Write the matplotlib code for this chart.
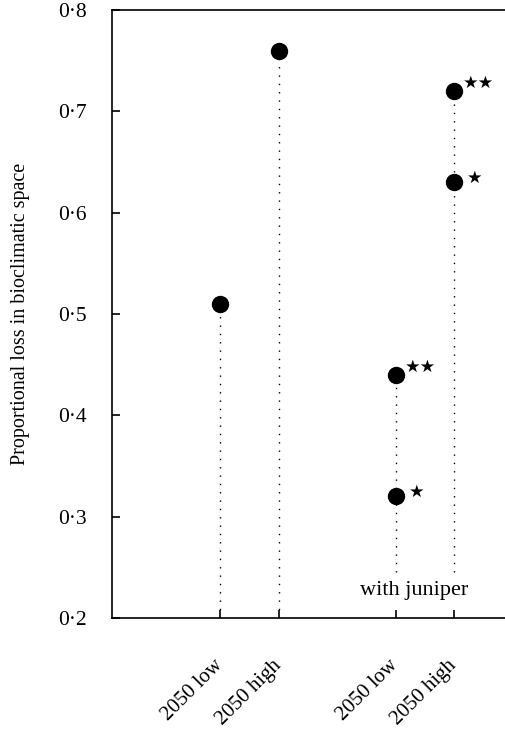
import numpy as np
import matplotlib
matplotlib.use("Agg")
import matplotlib.pyplot as plt

# data
x_plain = [1, 2]
loss_plain = [0.51, 0.76]
x_juniper = [4, 5]
loss_one_star = [0.32, 0.63]
loss_two_star = [0.44, 0.72]
tick_pos = [1, 2, 4, 5]
tick_labels = ["2050 low", "2050 high", "2050 low", "2050 high"]
yticks = [0.2, 0.3, 0.4, 0.5, 0.6, 0.7, 0.8]

SERIF = ["Liberation Serif", "DejaVu Serif"]
plt.rcParams["font.family"] = SERIF

fig = plt.figure(figsize=(5.06, 7.35), dpi=100)
ax = fig.add_axes([112 / 506, 1 - 618 / 735, 1 - 112 / 506, (618 - 10) / 735])

dots = dict(color="black", linewidth=1.0, linestyle=(0, (1, 5)), zorder=1)

# plain scenarios: dotted drop lines to the axis
for x, y in zip(x_plain, loss_plain):
    ax.plot([x, x], [0.2, y], **dots)
ax.plot(x_plain, loss_plain, "o", color="black", markersize=11.5, zorder=3)

# with juniper: lines stop above the label
for x, y in zip(x_juniper, loss_two_star):
    ax.plot([x, x], [0.245, y], **dots)
ax.plot(x_juniper, loss_one_star, "o", color="black", markersize=11.5, zorder=3)
ax.plot(x_juniper, loss_two_star, "o", color="black", markersize=11.5, zorder=3)

star_font = ["DejaVu Sans"]
for x, y in zip(x_juniper, loss_one_star):
    ax.annotate("\u2605", (x, y), xytext=(9.5, -3), textcoords="offset points",
                fontsize=12.5, family=star_font, va="bottom", ha="left")
for x, y in zip(x_juniper, loss_two_star):
    ax.annotate("\u2605\u2605", (x, y), xytext=(6.5, -0.5), textcoords="offset points",
                fontsize=12.5, family=star_font, va="bottom", ha="left")

ax.text(4.32, 0.2274, "with juniper", ha="center", va="center", fontsize=16)

ax.set_xlim(-0.85, 5.89)
ax.set_ylim(0.2, 0.8)
ax.set_yticks(yticks)
ax.set_yticklabels([f"{v:.1f}".replace(".", "\u00b7") for v in yticks], fontsize=15.5)
ax.set_xticks(tick_pos)
ax.set_xticklabels(tick_labels, rotation=45, ha="right", va="center",
                   rotation_mode="anchor", fontsize=15)
ax.tick_params(axis="y", direction="in", length=6, width=1.2, pad=18)
ax.tick_params(axis="x", direction="in", length=6, width=1.2, pad=32)
ax.set_ylabel("Proportional loss in bioclimatic space", fontsize=14.5, labelpad=20)

ax.spines["right"].set_visible(False)
for s in ["left", "bottom", "top"]:
    ax.spines[s].set_linewidth(1.2)

fig.savefig("out.png", dpi=100)
